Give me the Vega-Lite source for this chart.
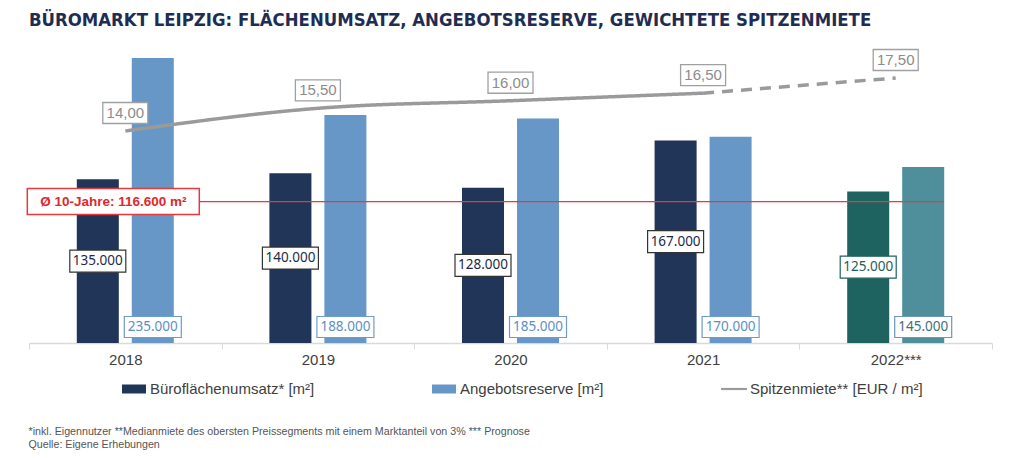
{
  "$schema": "https://vega.github.io/schema/vega-lite/v6.json",
  "autosize": {"type": "none"},
  "width": 963,
  "height": 293,
  "padding": {"left": 29, "top": 50, "right": 32, "bottom": 115},
  "background": "white",
  "title": {
    "text": "BÜROMARKT LEIPZIG: FLÄCHENUMSATZ, ANGEBOTSRESERVE, GEWICHTETE SPITZENMIETE",
    "anchor": "start", "frame": "group",
    "font": "DejaVu Sans Condensed", "fontSize": 18.4, "fontWeight": "bold",
    "color": "#1f2d52", "offset": 18
  },
  "config": {
    "view": {"stroke": null},
    "locale": {"number": {"decimal": ",", "thousands": ".", "grouping": [3], "currency": ["", " €"]}}
  },
  "datasets": {
    "bars": [
      {"year": "2018", "series": "Büroflächenumsatz* [m²]", "value": 135000},
      {"year": "2018", "series": "Angebotsreserve [m²]", "value": 235000},
      {"year": "2019", "series": "Büroflächenumsatz* [m²]", "value": 140000},
      {"year": "2019", "series": "Angebotsreserve [m²]", "value": 188000},
      {"year": "2020", "series": "Büroflächenumsatz* [m²]", "value": 128000},
      {"year": "2020", "series": "Angebotsreserve [m²]", "value": 185000},
      {"year": "2021", "series": "Büroflächenumsatz* [m²]", "value": 167000},
      {"year": "2021", "series": "Angebotsreserve [m²]", "value": 170000},
      {"year": "2022***", "series": "Büroflächenumsatz* [m²]", "value": 125000},
      {"year": "2022***", "series": "Angebotsreserve [m²]", "value": 145000}
    ],
    "miete": [
      {"year": "2018", "miete": 14.0, "part": "Ist"},
      {"year": "2019", "miete": 15.5, "part": "Ist"},
      {"year": "2020", "miete": 16.0, "part": "Ist"},
      {"year": "2021", "miete": 16.5, "part": "Ist"},
      {"year": "2021", "miete": 16.5, "part": "Prognose"},
      {"year": "2022***", "miete": 17.5, "part": "Prognose"}
    ],
    "schnitt": [
      {"schnitt": 116600, "label": "Ø 10-Jahre: 116.600 m²"}
    ]
  },
  "encoding": {
    "x": {
      "field": "year", "type": "nominal",
      "scale": {"domain": ["2018", "2019", "2020", "2021", "2022***"], "paddingInner": 0, "paddingOuter": 0},
      "axis": {
        "labelAngle": 0, "labelFont": "Liberation Sans", "labelFontSize": 15, "labelColor": "#404040",
        "labelPadding": 3, "tickBand": "extent", "tickColor": "#d9d9d9", "tickSize": 6,
        "domainColor": "#d9d9d9", "domainWidth": 1.5, "grid": false,
        "title": ["*inkl. Eigennutzer **Medianmiete des obersten Preissegments mit einem Marktanteil von 3% *** Prognose", "Quelle: Eigene Erhebungen"],
        "titleAnchor": "start", "titleAlign": "left", "titleX": -1, "titleY": 83, "titleBaseline": "top",
        "titleFont": "Liberation Sans", "titleFontSize": 10.7, "titleFontWeight": "normal",
        "titleColor": "#555555", "titleLineHeight": 13
      }
    }
  },
  "resolve": {"scale": {"y": "independent"}},
  "layer": [
    {
      "data": {"name": "bars"},
      "mark": {"type": "bar"},
      "encoding": {
        "xOffset": {"field": "series", "type": "nominal", "scale": {"domain": ["Büroflächenumsatz* [m²]", "Angebotsreserve [m²]"], "paddingInner": 0.236, "paddingOuter": 0.869}},
        "y": {"field": "value", "type": "quantitative", "scale": {"domain": [0, 241550], "nice": false}, "axis": null},
        "fill": {
          "field": "series", "type": "nominal",
          "condition": [
            {"test": "datum.year === '2022***' && datum.series === 'Büroflächenumsatz* [m²]'", "value": "#1e6360"},
            {"test": "datum.year === '2022***' && datum.series === 'Angebotsreserve [m²]'", "value": "#4f8f9b"}
          ],
          "scale": {"domain": ["Büroflächenumsatz* [m²]", "Angebotsreserve [m²]", "Spitzenmiete** [EUR / m²]"], "range": ["#213559", "#6797c7", "#9a9a9a"]},
          "legend": {
            "orient": "none", "legendX": 93, "legendY": 327, "direction": "horizontal", "title": null,
            "labelFont": "Liberation Sans", "labelFontSize": 15, "labelColor": "#404040", "labelLimit": 400,
            "symbolSize": 576, "columnPadding": 117, "labelOffset": 4, "symbolStrokeWidth": 0, "symbolOpacity": 1,
            "encode": {"symbols": {"update": {"shape": {"signal": "datum.value === 'Spitzenmiete** [EUR / m²]' ? 'M-1.08,-0.09L1.08,-0.09L1.08,0.09L-1.08,0.09Z' : 'M-1,-0.375L1,-0.375L1,0.375L-1,0.375Z'"}}}}
          }
        }
      }
    },
    {
      "data": {"name": "schnitt"},
      "mark": {"type": "rule", "color": "#e8383b", "strokeWidth": 1.3, "x2Offset": 48},
      "encoding": {
        "x": {"datum": "2018", "bandPosition": 0},
        "x2": {"datum": "2022***"},
        "y": {"field": "schnitt", "type": "quantitative", "scale": {"domain": [0, 241550], "nice": false}, "axis": null}
      }
    },
    {
      "data": {"name": "miete"},
      "mark": {"type": "line", "color": "#9a9a9a", "strokeWidth": 3.5, "interpolate": "monotone"},
      "encoding": {
        "y": {"field": "miete", "type": "quantitative", "scale": {"domain": [0, 19.35], "nice": false, "zero": true}, "axis": null},
        "strokeDash": {"field": "part", "type": "nominal", "scale": {"domain": ["Ist", "Prognose"], "range": [[1, 0], [11, 8]]}, "legend": null}
      }
    },
    {
      "data": {"name": "schnitt"},
      "mark": {"type": "point", "shape": "M-1,-0.151L1,-0.151L1,0.151L-1,0.151Z", "size": 29584, "filled": true, "fill": "white", "stroke": "#e8383b", "strokeWidth": 1.5, "opacity": 1, "xOffset": -12},
      "encoding": {
        "x": {"datum": "2018"},
        "y": {"field": "schnitt", "type": "quantitative", "scale": {"domain": [0, 241550], "nice": false}, "axis": null}
      }
    },
    {
      "data": {"name": "schnitt"},
      "mark": {"type": "text", "font": "Liberation Sans", "fontSize": 13.5, "fontWeight": "bold", "color": "#e0282c", "xOffset": -12, "baseline": "middle"},
      "encoding": {
        "x": {"datum": "2018"},
        "y": {"field": "schnitt", "type": "quantitative", "scale": {"domain": [0, 241550], "nice": false}, "axis": null},
        "text": {"field": "label"}
      }
    },
    {
      "data": {"name": "miete"},
      "transform": [{"filter": "datum.part === 'Ist' || datum.year === '2022***'"}],
      "mark": {"type": "point", "shape": "M-1,-0.467L1,-0.467L1,0.467L-1,0.467Z", "size": 2025, "filled": true, "fill": "white", "stroke": "#a0a0a0", "strokeWidth": 1.3, "opacity": 1, "yOffset": -18},
      "encoding": {
        "y": {"field": "miete", "type": "quantitative", "scale": {"domain": [0, 19.35], "nice": false, "zero": true}, "axis": null}
      }
    },
    {
      "data": {"name": "miete"},
      "transform": [{"filter": "datum.part === 'Ist' || datum.year === '2022***'"}],
      "mark": {"type": "text", "font": "Liberation Sans", "fontSize": 15, "color": "#8c8c8c", "yOffset": -18, "baseline": "middle"},
      "encoding": {
        "y": {"field": "miete", "type": "quantitative", "scale": {"domain": [0, 19.35], "nice": false, "zero": true}, "axis": null},
        "text": {"field": "miete", "type": "quantitative", "format": ",.2f"}
      }
    },
    {
      "data": {"name": "bars"},
      "transform": [{"filter": "datum.series === 'Büroflächenumsatz* [m²]'"}],
      "mark": {"type": "point", "shape": "M-1,-0.393L1,-0.393L1,0.393L-1,0.393Z", "size": 3136, "filled": true, "fill": "white", "strokeWidth": 1.2, "opacity": 1},
      "encoding": {
        "xOffset": {"field": "series", "type": "nominal", "scale": {"domain": ["Büroflächenumsatz* [m²]", "Angebotsreserve [m²]"], "paddingInner": 0.236, "paddingOuter": 0.869}},
        "y": {"field": "value", "type": "quantitative", "scale": {"domain": [0, 483100], "nice": false}, "axis": null},
        "stroke": {"condition": {"test": "datum.year === '2022***'", "value": "#1e6360"}, "value": "#333333"}
      }
    },
    {
      "data": {"name": "bars"},
      "transform": [{"filter": "datum.series === 'Büroflächenumsatz* [m²]'"}],
      "mark": {"type": "text", "font": "Noto Sans", "fontSize": 13.5, "baseline": "middle"},
      "encoding": {
        "xOffset": {"field": "series", "type": "nominal", "scale": {"domain": ["Büroflächenumsatz* [m²]", "Angebotsreserve [m²]"], "paddingInner": 0.236, "paddingOuter": 0.869}},
        "y": {"field": "value", "type": "quantitative", "scale": {"domain": [0, 483100], "nice": false}, "axis": null},
        "text": {"field": "value", "type": "quantitative", "format": ",.0f"},
        "color": {"condition": {"test": "datum.year === '2022***'", "value": "#1e5e5a"}, "value": "#1c2a48"}
      }
    },
    {
      "data": {"name": "bars"},
      "transform": [{"filter": "datum.series === 'Angebotsreserve [m²]'"}],
      "mark": {"type": "point", "shape": "M-1,-0.368L1,-0.368L1,0.368L-1,0.368Z", "size": 3249, "filled": true, "fill": "white", "strokeWidth": 1.2, "opacity": 1, "yOffset": -16},
      "encoding": {
        "xOffset": {"field": "series", "type": "nominal", "scale": {"domain": ["Büroflächenumsatz* [m²]", "Angebotsreserve [m²]"], "paddingInner": 0.236, "paddingOuter": 0.869}},
        "y": {"datum": 0, "type": "quantitative", "scale": {"domain": [0, 241550], "nice": false}, "axis": null},
        "stroke": {"condition": {"test": "datum.year === '2022***'", "value": "#6e94c0"}, "value": "#6f9bcb"}
      }
    },
    {
      "data": {"name": "bars"},
      "transform": [{"filter": "datum.series === 'Angebotsreserve [m²]'"}],
      "mark": {"type": "text", "font": "Noto Sans", "fontSize": 13.5, "baseline": "middle", "yOffset": -16},
      "encoding": {
        "xOffset": {"field": "series", "type": "nominal", "scale": {"domain": ["Büroflächenumsatz* [m²]", "Angebotsreserve [m²]"], "paddingInner": 0.236, "paddingOuter": 0.869}},
        "y": {"datum": 0, "type": "quantitative", "scale": {"domain": [0, 241550], "nice": false}, "axis": null},
        "text": {"field": "value", "type": "quantitative", "format": ",.0f"},
        "color": {"condition": {"test": "datum.year === '2022***'", "value": "#3f6f7c"}, "value": "#5b8fc4"}
      }
    }
  ]
}
